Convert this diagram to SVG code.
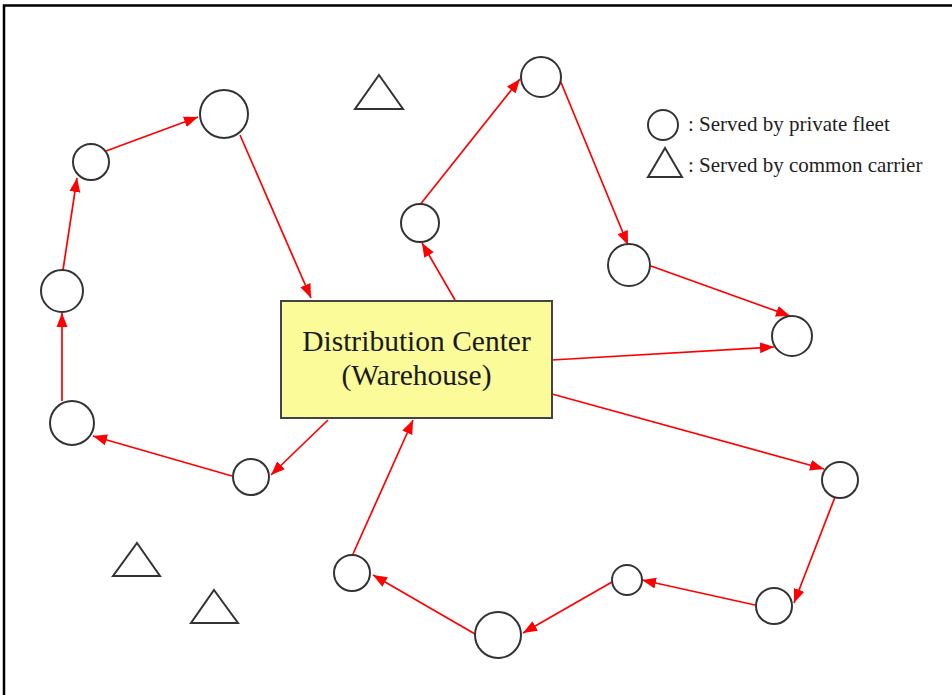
<svg xmlns="http://www.w3.org/2000/svg" width="952" height="695" viewBox="0 0 952 695">
  <style>
    .stop { fill: #ffffff; stroke: #333333; stroke-width: 2; }
    .carrier { fill: #ffffff; stroke: #333333; stroke-width: 2; stroke-linejoin: miter; }
    .route { stroke: #ff0000; stroke-width: 1.7; fill: none; marker-end: url(#arrow); }
    .dc-box { fill: #fbfb99; stroke: #444444; stroke-width: 2; }
    .dc-label { font-family: "Liberation Serif", "Times New Roman", serif; font-size: 29.5px; fill: #1a1a1a; text-anchor: middle; }
    .legend-label { font-family: "Liberation Serif", "Times New Roman", serif; font-size: 21px; fill: #222222; }
  </style>
  <defs>
    <marker id="arrow" markerUnits="userSpaceOnUse" markerWidth="15" markerHeight="12" viewBox="0 0 15 12" refX="14" refY="6" orient="auto">
      <path d="M0,0.5 L14,6 L0,11.5 Z" fill="#ff0000"/>
    </marker>
  </defs>

  <rect x="0" y="0" width="952" height="695" fill="#ffffff"/>
  <!-- frame (top and left edges) -->
  <path d="M4,695 V5.5 H952" fill="none" stroke="#000000" stroke-width="2.5"/>

  <!-- routes -->
  <g id="connectors">
    <line class="route" x1="240" y1="135" x2="311" y2="298"/>
    <line class="route" x1="232" y1="476" x2="93" y2="436"/>
    <line class="route" x1="62" y1="401" x2="62" y2="313"/>
    <line class="route" x1="63" y1="270" x2="77" y2="178"/>
    <line class="route" x1="106" y1="151" x2="198" y2="117"/>
    <line class="route" x1="328" y1="420" x2="271" y2="475"/>
    <line class="route" x1="455" y1="300" x2="422" y2="243"/>
    <line class="route" x1="419" y1="206" x2="520" y2="79"/>
    <line class="route" x1="560" y1="80" x2="628" y2="245"/>
    <line class="route" x1="651" y1="266" x2="790" y2="316"/>
    <line class="route" x1="552" y1="360" x2="774" y2="347"/>
    <line class="route" x1="552" y1="394" x2="824" y2="469"/>
    <line class="route" x1="835" y1="497" x2="794" y2="603"/>
    <line class="route" x1="755" y1="605" x2="642" y2="580"/>
    <line class="route" x1="612" y1="582" x2="523" y2="633"/>
    <line class="route" x1="475" y1="634" x2="373" y2="575"/>
    <line class="route" x1="353" y1="554" x2="413" y2="420"/>
  </g>

  <!-- distribution center -->
  <g id="distribution-center">
    <rect class="dc-box" x="281" y="301" width="271" height="117"/>
    <text class="dc-label" x="416.5" y="351">Distribution Center</text>
    <text class="dc-label" x="416.5" y="385">(Warehouse)</text>
  </g>

  <!-- customers served by private fleet -->
  <g id="stop-1"><circle class="stop" cx="224" cy="114" r="24"/></g>
  <g id="stop-2"><circle class="stop" cx="91" cy="162" r="18"/></g>
  <g id="stop-3"><circle class="stop" cx="62" cy="291" r="21"/></g>
  <g id="stop-4"><circle class="stop" cx="72" cy="423" r="22"/></g>
  <g id="stop-5"><circle class="stop" cx="251" cy="477" r="18"/></g>
  <g id="stop-6"><circle class="stop" cx="541" cy="77" r="20"/></g>
  <g id="stop-7"><circle class="stop" cx="420" cy="223" r="19"/></g>
  <g id="stop-8"><circle class="stop" cx="629" cy="265" r="21"/></g>
  <g id="stop-9"><circle class="stop" cx="792" cy="336" r="20"/></g>
  <g id="stop-10"><circle class="stop" cx="840" cy="480" r="18"/></g>
  <g id="stop-11"><circle class="stop" cx="774" cy="606" r="18"/></g>
  <g id="stop-12"><circle class="stop" cx="627" cy="580" r="15"/></g>
  <g id="stop-13"><circle class="stop" cx="498" cy="635" r="23"/></g>
  <g id="stop-14"><circle class="stop" cx="352" cy="573" r="18"/></g>

  <!-- customers served by common carrier -->
  <g id="carrier-1"><polygon class="carrier" points="379,75 403,109 355,109"/></g>
  <g id="carrier-2"><polygon class="carrier" points="137,543 160,576 113,576"/></g>
  <g id="carrier-3"><polygon class="carrier" points="214,590 238,623 191,623"/></g>

  <!-- legend -->
  <g id="legend">
    <circle class="stop" cx="663" cy="125" r="15"/>
    <text class="legend-label" x="688" y="131">: Served by private fleet</text>
    <polygon class="carrier" points="665,148 682,177 648,177"/>
    <text class="legend-label" x="688" y="172">: Served by common carrier</text>
  </g>
</svg>
